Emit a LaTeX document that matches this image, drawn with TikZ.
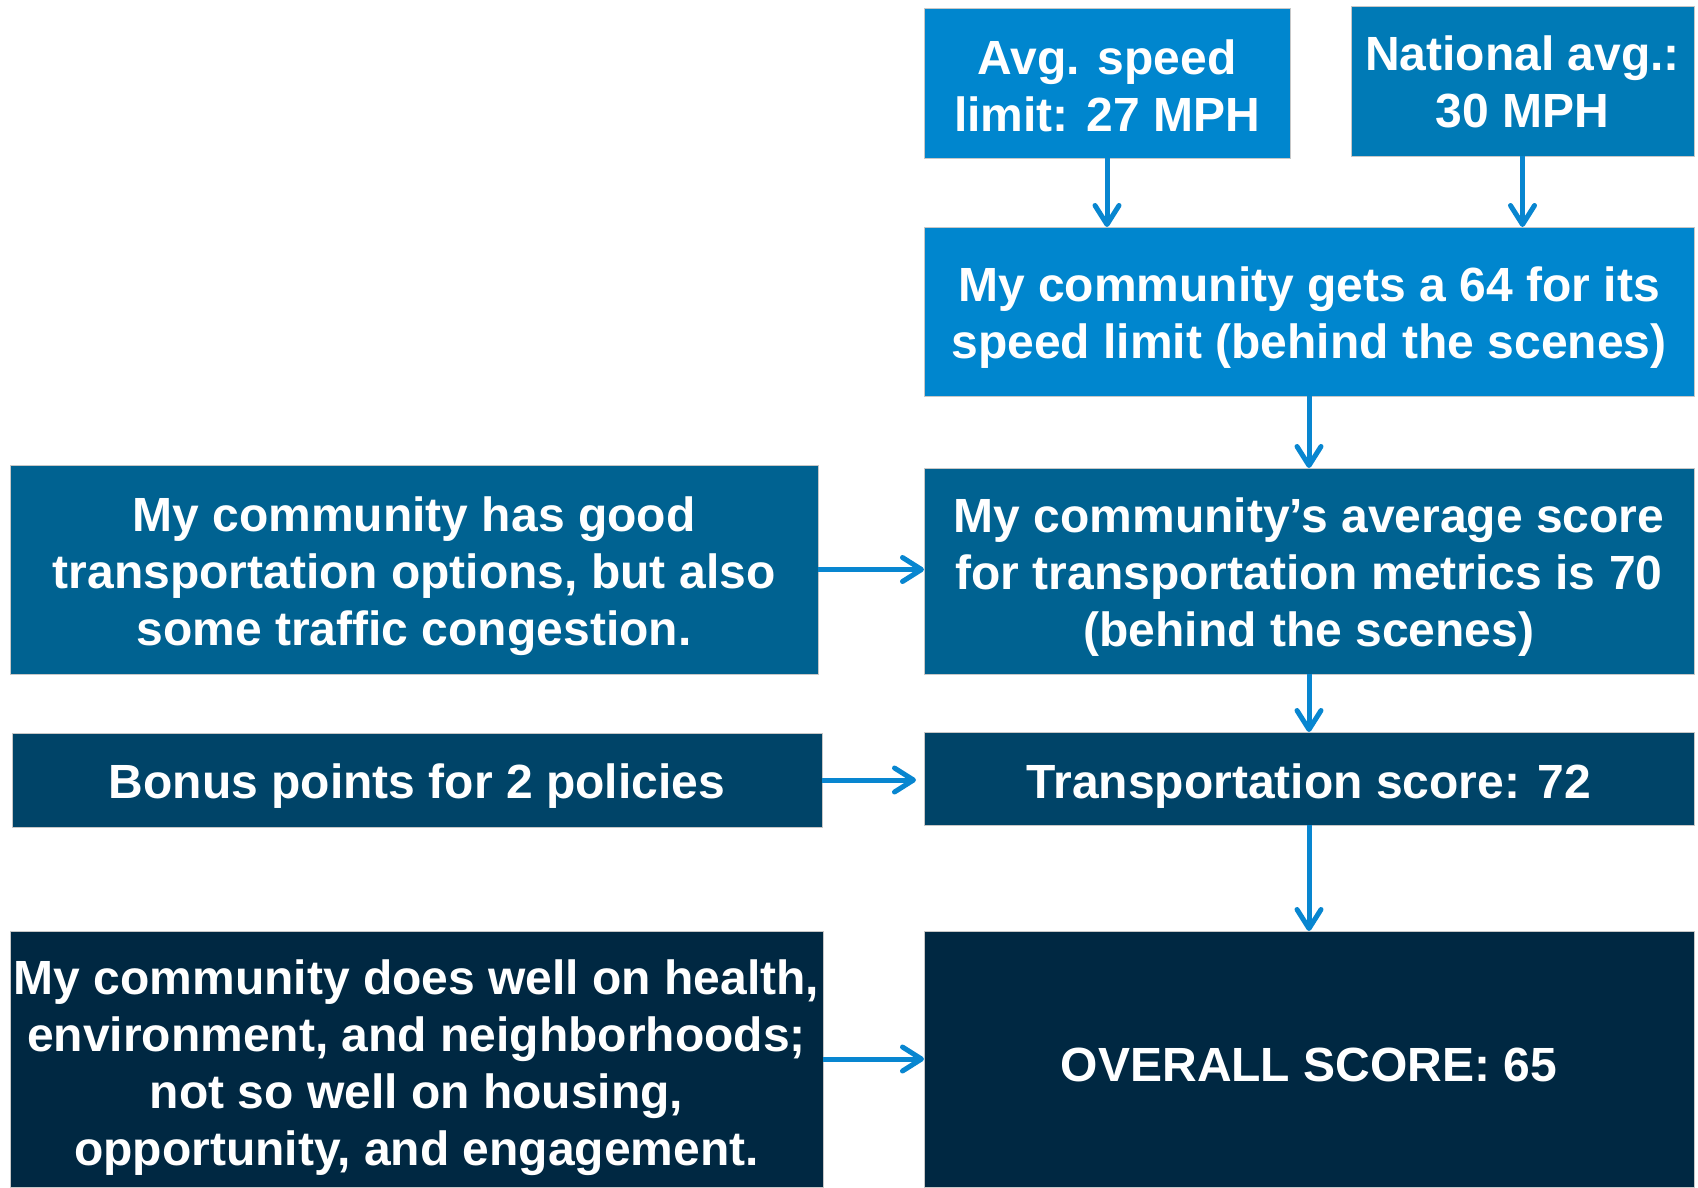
\documentclass[tikz,border=0pt]{standalone}
\usepackage{fontspec}
\setmainfont{Liberation Sans}
\usetikzlibrary{arrows.meta}
\definecolor{cA}{RGB}{0,134,206}
\definecolor{cB}{RGB}{0,122,182}
\definecolor{cD}{RGB}{0,98,145}
\definecolor{cF}{RGB}{0,68,104}
\definecolor{cH}{RGB}{0,40,66}
\definecolor{cArr}{RGB}{8,134,208}
\newcommand{\boxtxt}[2]{\raisebox{-#1pt}[\height][\depth]{\begin{tabular}{@{}c@{}}#2\end{tabular}}}
\begin{document}
\begin{tikzpicture}[x=1pt,y=-1pt,
  box/.style={draw=black!22, line width=0.8pt, text=white,
    font=\bfseries\fontsize{48}{57}\selectfont,
    inner sep=0pt, outer sep=0pt},
  arr/.style={draw=cArr, line width=5pt,
    -{Straight Barb[length=19pt,width=24pt,line cap=round,line join=round]}}]
\useasboundingbox (0,0) rectangle (1698,1187);
\node[box, fill=cA, minimum width=366pt, minimum height=150pt] (A) at (1107,83) {\boxtxt{8.5}{Avg. speed\\limit: 27 MPH}};
\node[box, fill=cB, minimum width=343pt, minimum height=150pt] (B) at (1522.5,81) {\boxtxt{7}{National avg.:\\30 MPH}};
\node[box, fill=cA, minimum width=770pt, minimum height=169pt] (C) at (1309,311.5) {\boxtxt{7.5}{My community gets a 64 for its\\speed limit (behind the scenes)}};
\node[box, fill=cD, minimum width=808pt, minimum height=209pt] (D) at (414,569.5) {\boxtxt{8}{My community has good\\transportation options, but also\\some traffic congestion.}};
\node[box, fill=cD, minimum width=770pt, minimum height=206pt] (E) at (1309,571) {\boxtxt{7}{My community’s average score\\for transportation metrics is 70\\(behind the scenes)}};
\node[box, fill=cF, minimum width=810pt, minimum height=94pt] (F) at (417,780) {\boxtxt{7.5}{Bonus points for 2 policies}};
\node[box, fill=cF, minimum width=770pt, minimum height=93pt] (G) at (1309,778.5) {\boxtxt{8.5}{Transportation score: 72}};
\node[box, fill=cH, minimum width=813pt, minimum height=256pt] (H) at (416.5,1059) {\boxtxt{9.5}{My community does well on health,\\environment, and neighborhoods;\\not so well on housing,\\opportunity, and engagement.}};
\node[box, fill=cH, minimum width=770pt, minimum height=256pt] (I) at (1309,1059) {\boxtxt{11}{OVERALL SCORE: 65}};
\draw[arr] (A.south) -- (A.south |- C.north);
\draw[arr] (B.south) -- (B.south |- C.north);
\draw[arr] (C.south) -- (E.north);
\draw[arr] (D.east) -- (D.east -| E.west);
\draw[arr] (E.south) -- (G.north);
\draw[arr, shorten >=8pt] (F.east) -- (F.east -| G.west);
\draw[arr] (G.south) -- (I.north);
\draw[arr] (H.east) -- (I.west);
\end{tikzpicture}
\end{document}
